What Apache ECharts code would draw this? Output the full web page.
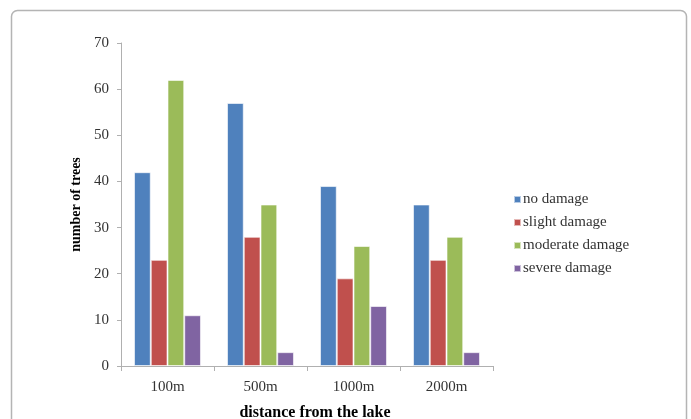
<!DOCTYPE html>
<html>
<head>
<meta charset="utf-8">
<script src="https://cdn.jsdelivr.net/npm/echarts@6/dist/echarts.min.js"></script>
<style>
html,body{margin:0;padding:0;background:#fff;overflow:hidden;}
#main{width:691px;height:419px;}
</style>
</head>
<body>
<div id="main"></div>
<script>
var categories = ['100m', '500m', '1000m', '2000m'];
var noDamage = [42, 57, 39, 35];
var slightDamage = [23, 28, 19, 23];
var moderateDamage = [62, 35, 26, 28];
var severeDamage = [11, 3, 13, 3];
var seriesNames = ['no damage', 'slight damage', 'moderate damage', 'severe damage'];
var yTicks = [0, 10, 20, 30, 40, 50, 60, 70];

var colors = ['#4F81BD', '#C0504D', '#9BBB59', '#8064A2'];
var font = '"Liberation Serif", "DejaVu Serif", serif';
var dataSets = [noDamage, slightDamage, moderateDamage, severeDamage];

var chart = echarts.init(document.getElementById('main'), null, {renderer: 'canvas'});
chart.setOption({
  animation: false,
  backgroundColor: '#fff',
  color: colors,
  graphic: [{
    type: 'rect',
    shape: {x: 11.5, y: 10.5, width: 675, height: 430, r: 6},
    style: {fill: 'none', stroke: '#b4b4b4', lineWidth: 1.5},
    silent: true, z: -1
  }],
  grid: {left: 121, width: 372, top: 43, height: 323, containLabel: false, outerBoundsMode: 'none'},
  legend: {
    orient: 'vertical',
    left: 508, top: 187,
    itemWidth: 7, itemHeight: 7, itemGap: 8,
    icon: 'rect',
    data: seriesNames,
    textStyle: {fontFamily: font, fontSize: 15, color: '#333', padding: [0, 0, 0, -3]}
  },
  xAxis: {
    type: 'category',
    data: categories,
    name: 'distance from the lake',
    nameLocation: 'middle',
    nameGap: 39,
    nameTextStyle: {fontFamily: font, fontSize: 16, fontWeight: 'bold', color: '#000', padding: [0, 0, 0, 16]},
    axisLine: {lineStyle: {color: '#b0b0b0', width: 1}},
    axisTick: {show: true, length: 5, alignWithLabel: false, lineStyle: {color: '#b0b0b0'}},
    axisLabel: {fontFamily: font, fontSize: 15, color: '#333', margin: 14}
  },
  yAxis: {
    type: 'value',
    min: 0, max: 70, interval: 10,
    name: 'number of trees',
    nameLocation: 'middle',
    nameGap: 37,
    nameRotate: 90,
    nameTextStyle: {fontFamily: font, fontSize: 14, fontWeight: 'bold', color: '#000'},
    axisLine: {show: true, lineStyle: {color: '#b0b0b0', width: 1}},
    axisTick: {show: true, length: 4, lineStyle: {color: '#b0b0b0'}},
    splitLine: {show: false},
    axisLabel: {
      fontFamily: font, fontSize: 15, color: '#333', margin: 12,
      formatter: function (v) { return yTicks.indexOf(v) >= 0 ? String(v) : ''; }
    }
  },
  series: seriesNames.map(function (n, i) {
    return {
      name: n,
      type: 'bar',
      data: dataSets[i],
      barGap: '0%',
      barCategoryGap: '28%',
      itemStyle: {color: colors[i], borderColor: 'rgba(255,255,255,0.6)', borderWidth: 1}
    };
  })
});
</script>
</body>
</html>
